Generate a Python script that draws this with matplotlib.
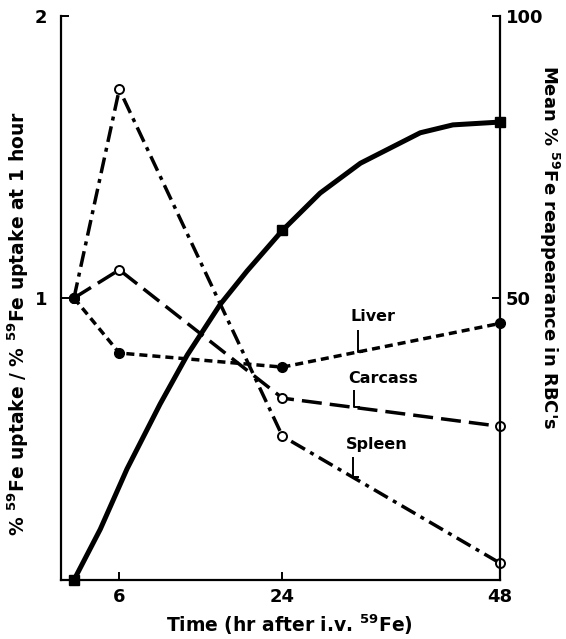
import numpy as np
import matplotlib
matplotlib.use('Agg')
import matplotlib.pyplot as plt

plt.rcParams['font.family'] = ['DejaVu Sans']
plt.rcParams['mathtext.default'] = 'regular'
plt.rcParams['lines.scale_dashes'] = False

# Data
hours = [1, 6, 24, 48]
spleen = [1.0, 1.74, 0.51, 0.06]
carcass = [1.0, 1.10, 0.645, 0.545]
liver = [1.0, 0.805, 0.755, 0.91]

# RBC reappearance (right axis), measured points and traced smooth curve
rbc_hours = [1, 24, 48]
rbc = [0, 62, 81.2]
rbc_curve_hours = [1, 3.9, 6.85, 10.5, 13.5, 17.1, 20.1, 24, 28.15, 32.6, 39.2, 42.8, 48]
rbc_curve = [0, 9.0, 19.7, 31.2, 39.9, 48.8, 54.8, 62, 68.6, 73.9, 79.3, 80.7, 81.2]

x_ticks = [6, 24, 48]
left_ticks = [1, 2]
right_ticks = [50, 100]

SUP = r'$^{\mathbf{59}}$'

fig = plt.figure(figsize=(5.66, 6.39), dpi=100)
ax = fig.add_axes([0.1078, 0.0923, 0.7756, 0.8826])
ax2 = ax.twinx()

LW = 2.5
# spleen: dash-dot, open circles
ax.plot(hours, spleen, color='black', lw=LW, dashes=(11.5, 4.3, 2.9, 4.3),
        marker='o', ms=6.5, mfc='white', mec='black', mew=1.4, clip_on=False, zorder=3)
# carcass: long dash, open circles
ax.plot(hours, carcass, color='black', lw=LW, dashes=(14.4, 5.8),
        marker='o', ms=6.5, mfc='white', mec='black', mew=1.4, clip_on=False, zorder=3)
# liver: short dash, filled circles
ax.plot(hours, liver, color='black', lw=LW, dashes=(5.8, 3.6),
        marker='o', ms=7, mfc='black', mec='black', clip_on=False, zorder=4)

# RBC curve
ax2.plot(rbc_curve_hours, rbc_curve, color='black', lw=3.6, solid_capstyle='butt',
         solid_joinstyle='round', clip_on=False, zorder=3)
ax2.plot(rbc_hours, rbc, ls='none', marker='s', ms=7, color='black', clip_on=False, zorder=4)

# curve labels with leader lines
labels = [('Liver', 34.0, 0.936, 32.3, 0.887, 0.809),
          ('Carcass', 35.1, 0.716, 31.9, 0.674, 0.613),
          ('Spleen', 34.4, 0.482, 31.8, 0.436, 0.365)]
for text, tx, ty, lx, y0, y1 in labels:
    ax.text(tx, ty, text, ha='center', va='center', fontsize=11.5, fontweight='bold')
    ax.plot([lx, lx, lx + 0.6], [y0, y1, y1], color='black', lw=1.4, solid_capstyle='butt')

ax.set_xlim(-0.43, 48)
ax.set_ylim(0, 2)
ax2.set_ylim(0, 100)

ax.set_xticks(x_ticks)
ax.set_yticks(left_ticks)
ax2.set_yticks(right_ticks)

for a in (ax, ax2):
    a.spines['top'].set_visible(False)
    for s in a.spines.values():
        s.set_linewidth(1.6)
ax.spines['right'].set_visible(False)
ax2.spines['left'].set_visible(False)
ax2.spines['bottom'].set_visible(False)

ax.tick_params(axis='both', direction='in', length=6, width=1.4, labelsize=13, pad=6)
ax.tick_params(axis='y', pad=10)
ax2.tick_params(axis='y', direction='in', length=6, width=1.4, labelsize=13, pad=4)
for lbl in ax.get_xticklabels() + ax.get_yticklabels() + ax2.get_yticklabels():
    lbl.set_fontweight('bold')

ax.set_xlabel('Time (hr after i.v. ' + SUP + 'Fe)', fontsize=13.5, fontweight='bold')
ax.xaxis.set_label_coords(0.52, -0.058)
ax.set_ylabel('% ' + SUP + 'Fe uptake / % ' + SUP + 'Fe uptake at 1 hour',
              fontsize=13.5, fontweight='bold')
ax.yaxis.set_label_coords(-0.068, 0.454)
ax2.set_ylabel("Mean % " + SUP + "Fe reappearance in RBC's", fontsize=13,
               fontweight='bold', rotation=270)
ax2.yaxis.set_label_coords(1.14, 0.59)

fig.savefig('out.png', dpi=100)
